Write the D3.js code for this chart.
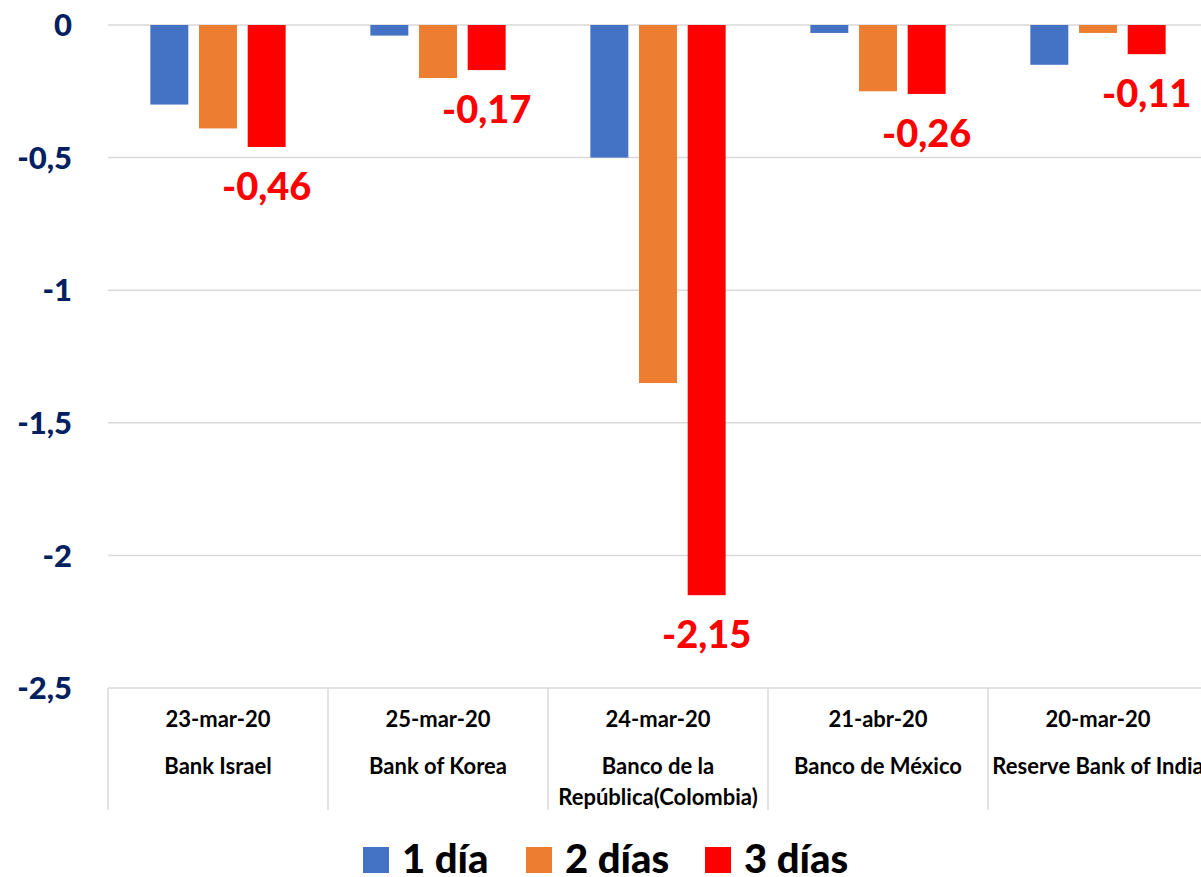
<!DOCTYPE html>
<html>
<head>
<meta charset="utf-8">
<script src="https://cdn.jsdelivr.net/npm/d3@7"></script>
<style>
  body { margin: 0; background: #fff; }
  svg { display: block; font-family: Lato, "Open Sans", sans-serif; font-weight: bold; }
</style>
</head>
<body>
<svg id="chart" width="1201" height="877"></svg>
<script>
// data
const fechas = ['23-mar-20', '25-mar-20', '24-mar-20', '21-abr-20', '20-mar-20'];
const bancos = [['Bank Israel'], ['Bank of Korea'], ['Banco de la', 'República(Colombia)'], ['Banco de México'], ['Reserve Bank of India']];
const series = ['1 día', '2 días', '3 días'];
const unDia = [-0.30, -0.04, -0.50, -0.03, -0.15];
const dosDias = [-0.39, -0.20, -1.35, -0.25, -0.03];
const tresDias = [-0.46, -0.17, -2.15, -0.26, -0.11];
const yTicks = [0, -0.5, -1, -1.5, -2, -2.5];

const colores = ['#4472C4', '#ED7D31', '#FF0000'];
const valores = [unDia, dosDias, tresDias];
const cats = fechas.map((f, i) => i);

const svg = d3.select('#chart');
const izq = 108, arriba = 25, abajo = 688;

const x0 = d3.scaleBand().domain(cats).range([izq, izq + 220 * cats.length]);
const x1 = d3.scaleBand().domain(series).range([37, 183]).paddingInner(0.22).paddingOuter(0.11);
const y = d3.scaleLinear().domain([-2.5, 0]).range([abajo, arriba]);
const fmt = v => d3.format('.2f')(v).replace('.', ',').replace('−', '-');
const fmtTick = v => String(v).replace('.', ',');

// gridlines
svg.append('g')
  .selectAll('line')
  .data(yTicks)
  .join('line')
    .attr('x1', izq).attr('x2', 1201)
    .attr('y1', d => y(d)).attr('y2', d => y(d))
    .attr('stroke', '#d9d9d9').attr('stroke-width', 1.5);

// y tick labels
svg.append('g')
  .selectAll('text')
  .data(yTicks)
  .join('text')
    .attr('x', 72).attr('y', d => y(d))
    .attr('dy', '0.36em')
    .attr('text-anchor', 'end')
    .attr('fill', '#002060')
    .attr('font-size', 31)
    .attr('font-weight', 900)
    .text(d => fmtTick(d));

// table separators under the axis
svg.append('g')
  .selectAll('line')
  .data(cats)
  .join('line')
    .attr('x1', d => x0(d)).attr('x2', d => x0(d))
    .attr('y1', abajo).attr('y2', 810)
    .attr('stroke', '#d9d9d9').attr('stroke-width', 1.5);

// bars
const grupos = svg.append('g')
  .selectAll('g')
  .data(cats)
  .join('g')
    .attr('transform', d => `translate(${x0(d)},0)`);

grupos.selectAll('rect')
  .data(i => series.map((s, k) => ({s, k, v: valores[k][i]})))
  .join('rect')
    .attr('x', d => x1(d.s))
    .attr('width', x1.bandwidth())
    .attr('y', y(0))
    .attr('height', d => y(d.v) - y(0))
    .attr('fill', d => colores[d.k]);

// labels for 3 dias
grupos.append('text')
  .attr('x', x1('3 días') + x1.bandwidth() / 2)
  .attr('y', i => y(tresDias[i]) + 53)
  .attr('text-anchor', 'middle')
  .attr('fill', '#FF0000')
  .attr('font-size', 38)
  .attr('font-weight', 900)
  .text(i => fmt(tresDias[i]));

// category labels
grupos.append('text')
  .attr('x', 110).attr('y', 727)
  .attr('text-anchor', 'middle')
  .attr('font-size', 22)
  .text(i => fechas[i]);

grupos.each(function(i) {
  d3.select(this).selectAll('text.banco')
    .data(bancos[i])
    .join('text')
      .attr('class', 'banco')
      .attr('x', 110).attr('y', (d, j) => 774 + j * 31)
      .attr('text-anchor', 'middle')
      .attr('font-size', 22)
      .text(d => d);
});

// legend
const legX = [363, 526, 705];
const ley = svg.append('g')
  .selectAll('g')
  .data(series)
  .join('g')
    .attr('transform', (d, k) => `translate(${legX[k]},847)`);
ley.append('rect').attr('width', 26).attr('height', 26).attr('fill', (d, k) => colores[k]);
ley.append('text').attr('x', 39).attr('y', 26).attr('font-size', 40).attr('font-weight', 900).text(d => d);
</script>
</body>
</html>
